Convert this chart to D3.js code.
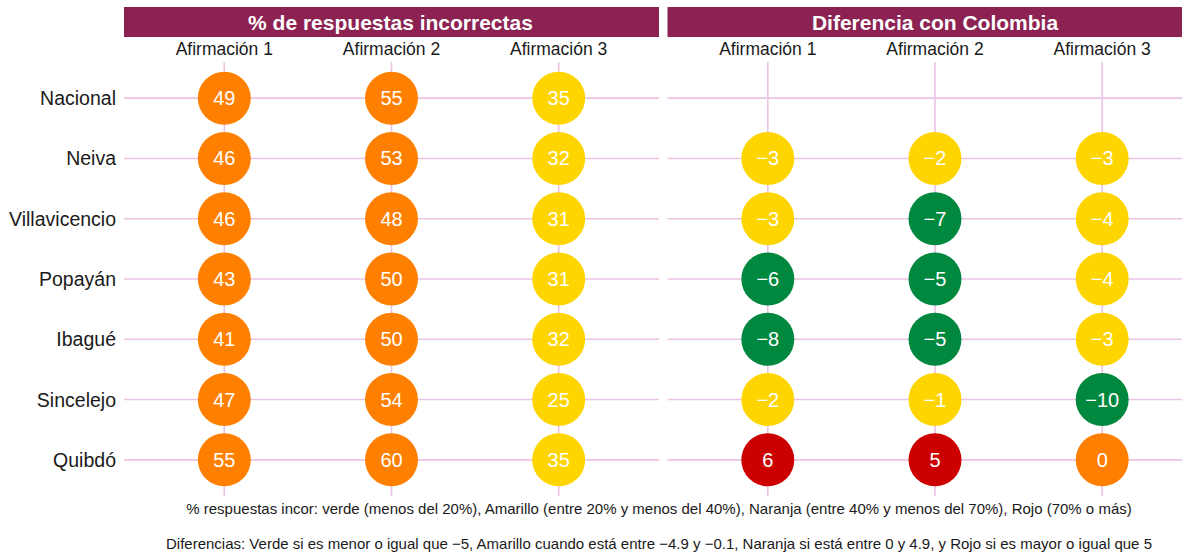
<!DOCTYPE html>
<html>
<head>
<meta charset="utf-8">
<script src="https://cdn.jsdelivr.net/npm/d3@7"></script>
<style>
  body { margin: 0; background: #fff; }
  svg { display: block; font-family: "Liberation Sans", Arial, sans-serif; }
</style>
</head>
<body>
<div id="canvas"></div>
<script>
var ciudades = ['Nacional', 'Neiva', 'Villavicencio', 'Popayán', 'Ibagué', 'Sincelejo', 'Quibdó'];
var afirmaciones = ['Afirmación 1', 'Afirmación 2', 'Afirmación 3'];

// % de respuestas incorrectas, una fila por ciudad
var incorrectas = [
    [49, 55, 35],
    [46, 53, 32],
    [46, 48, 31],
    [43, 50, 31],
    [41, 50, 32],
    [47, 54, 25],
    [55, 60, 35]
];

// diferencia con Colombia (Nacional no tiene)
var diferencias = [
    null,
    [-3, -2, -3],
    [-3, -7, -4],
    [-6, -5, -4],
    [-8, -5, -3],
    [-2, -1, -10],
    [6, 5, 0]
];

var titulos = ['% de respuestas incorrectas', 'Diferencia con Colombia'];
var notas = [
    '% respuestas incor: verde (menos del 20%), Amarillo (entre 20% y menos del 40%), Naranja (entre 40% y menos del 70%), Rojo (70% o más)',
    'Diferencias: Verde si es menor o igual que \u22125, Amarillo cuando está entre \u22124.9 y \u22120.1, Naranja si está entre 0 y 4.9, y Rojo si es mayor o igual que 5'
];

var verde = '#00883F', amarillo = '#FFD500', naranja = '#FF8000', rojo = '#CC0000';

function colorPct(v)
{
    if (v < 20) return verde;
    if (v < 40) return amarillo;
    if (v < 70) return naranja;
    return rojo;
}

function colorDif(v)
{
    if (v <= -5) return verde;
    if (v < 0) return amarillo;
    if (v < 5) return naranja;
    return rojo;
}

function fmt(v)
{
    return v < 0 ? '\u2212' + Math.abs(v) : String(v);
}

var width = 1182, height = 554;
var svg = d3.select('#canvas').append('svg')
    .attr('width', width)
    .attr('height', height);

var grid = '#EBC3E3';
var yTop = 62, yBottom = 496;

var y = d3.scalePoint()
    .domain(ciudades)
    .range([yTop, yBottom])
    .padding(0.6);

var paneles = [
    { x0: 124, x1: 659, datos: incorrectas, color: colorPct },
    { x0: 667.5, x1: 1202.5, datos: diferencias, color: colorDif }
];

paneles.forEach(function(p, i)
{
    var x = d3.scalePoint()
        .domain(afirmaciones)
        .range([p.x0, p.x1])
        .padding(0.6);

    var g = svg.append('g');

    /* franja del título */
    g.append('rect')
        .attr('x', p.x0)
        .attr('y', 7)
        .attr('width', p.x1 - p.x0)
        .attr('height', 30)
        .attr('fill', '#8B2252');

    g.append('text')
        .attr('x', i == 0 ? (p.x0 + p.x1) / 2 - 1 : 935)
        .attr('y', 29.5)
        .attr('text-anchor', 'middle')
        .attr('fill', '#fff')
        .style('font-size', '21px')
        .style('font-weight', 'bold')
        .text(titulos[i]);

    /* encabezados de columna */
    g.selectAll('.col')
        .data(afirmaciones)
        .enter()
            .append('text')
            .attr('x', function(d) { return x(d); })
            .attr('y', 54.5)
            .attr('text-anchor', 'middle')
            .attr('fill', '#1a1a1a')
            .style('font-size', '17.5px')
            .text(function(d) { return d; });

    /* rejilla */
    g.selectAll('.v')
        .data(afirmaciones)
        .enter()
            .append('line')
            .attr('x1', function(d) { return x(d); })
            .attr('x2', function(d) { return x(d); })
            .attr('y1', yTop)
            .attr('y2', yBottom)
            .attr('stroke', grid)
            .attr('stroke-width', 1.6);

    g.selectAll('.h')
        .data(ciudades)
        .enter()
            .append('line')
            .attr('x1', p.x0)
            .attr('x2', p.x1)
            .attr('y1', function(d) { return y(d); })
            .attr('y2', function(d) { return y(d); })
            .attr('stroke', grid)
            .attr('stroke-width', 1.6);

    /* puntos */
    var celdas = [];
    p.datos.forEach(function(fila, r)
    {
        if (!fila) return;
        fila.forEach(function(v, c)
        {
            celdas.push({ ciudad: ciudades[r], afirmacion: afirmaciones[c], valor: v });
        });
    });

    var punto = g.selectAll('.punto')
        .data(celdas)
        .enter()
            .append('g')
            .attr('transform', function(d) { return 'translate(' + x(d.afirmacion) + ',' + y(d.ciudad) + ')'; });

    punto.append('circle')
        .attr('r', 26.5)
        .attr('fill', function(d) { return p.color(d.valor); });

    punto.append('text')
        .attr('y', 7)
        .attr('text-anchor', 'middle')
        .attr('fill', '#fff')
        .style('font-size', '20px')
        .text(function(d) { return fmt(d.valor); });
});

/* nombres de ciudades */
svg.selectAll('.ciudad')
    .data(ciudades)
    .enter()
        .append('text')
        .attr('x', 116)
        .attr('y', function(d) { return y(d) + 7; })
        .attr('text-anchor', 'end')
        .attr('fill', '#1a1a1a')
        .style('font-size', '19.5px')
        .text(function(d) { return d; });

/* notas al pie */
svg.selectAll('.nota')
    .data(notas)
    .enter()
        .append('text')
        .attr('x', 659)
        .attr('y', function(d, i) { return 513.5 + i * 35; })
        .attr('text-anchor', 'middle')
        .attr('fill', '#1a1a1a')
        .style('font-size', '15px')
        .text(function(d) { return d; });
</script>
</body>
</html>
